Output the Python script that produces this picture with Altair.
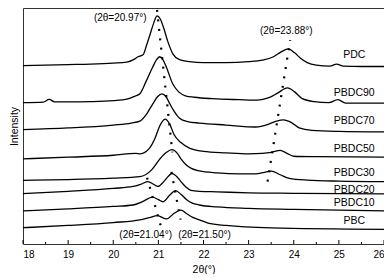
import altair as alt
import pandas as pd

# ---- data (2theta in degrees, intensity in arbitrary offset units) ----
pdc_x = [18.0, 18.5, 19.0, 19.5, 20.0, 20.3, 20.45, 20.55, 20.66, 20.74, 20.81, 20.9, 20.97, 21.04, 21.1, 21.21, 21.32, 21.47, 21.69, 22.0, 22.5, 23.0, 23.3, 23.55, 23.72, 23.88, 24.02, 24.15, 24.3, 24.5, 24.8, 24.95, 25.1, 25.5, 26.0]
pdc_y = [183, 183.5, 184, 184.5, 185.5, 186.5, 189, 192, 194, 204, 214, 227, 234, 231, 224, 207.5, 195, 189, 187, 186, 186, 187, 188.5, 192, 197, 200, 196, 190.5, 186, 183.5, 182.5, 184.5, 182.5, 182, 182]

pbdc90_x = [18.0, 18.45, 18.58, 18.7, 19.0, 19.5, 20.0, 20.3, 20.5, 20.59, 20.73, 20.88, 20.96, 21.03, 21.1, 21.18, 21.32, 21.45, 21.6, 21.8, 22.2, 22.8, 23.2, 23.45, 23.65, 23.86, 24.02, 24.19, 24.45, 24.78, 24.98, 25.15, 25.5, 26.0]
pbdc90_y = [145, 145.5, 148.3, 145.7, 145.7, 146, 147, 148.5, 152, 154, 167, 182, 189, 192, 189, 181, 164, 156, 152, 150.5, 149, 148, 147.5, 150, 155, 160, 156, 149, 146, 145, 148, 144.5, 144.5, 144.5]

pbdc70_x = [18.0, 19.0, 20.0, 20.4, 20.59, 20.75, 20.88, 20.98, 21.08, 21.17, 21.25, 21.35, 21.47, 21.65, 21.91, 22.5, 23.16, 23.45, 23.62, 23.77, 23.95, 24.12, 24.4, 25.0, 26.0]
pbdc70_y = [117.3, 119, 122, 124, 126, 134, 144, 151, 154, 151, 144, 136, 129, 125.5, 124, 122, 120, 123, 126, 127.3, 124.5, 119, 116.5, 115.5, 115]

pbdc50_x = [18.0, 19.0, 20.0, 20.5, 20.6, 20.8, 20.93, 21.03, 21.15, 21.25, 21.35, 21.5, 21.7, 22.0, 22.5, 23.0, 23.3, 23.5, 23.7, 23.85, 24.0, 24.5, 26.0]
pbdc50_y = [87.3, 89, 91, 93, 92.5, 98, 109, 121, 128, 123, 112, 104, 98, 95, 93.5, 92.5, 93, 94, 96, 93, 90, 89.5, 89]

pbdc30_x = [18.0, 19.0, 20.0, 20.59, 20.85, 21.03, 21.18, 21.3, 21.42, 21.5, 21.62, 21.73, 21.91, 22.3, 22.8, 23.16, 23.35, 23.5, 23.7, 23.9, 24.3, 25.0, 26.0]
pbdc30_y = [65.3, 66, 67.5, 69, 76, 87, 94, 96.7, 93, 87.3, 81, 77.5, 75, 73, 72, 72, 73.5, 74.7, 71, 67.3, 65.5, 64.5, 64]

pbdc20_x = [18.0, 19.0, 20.0, 20.44, 20.62, 20.77, 20.9, 20.99, 21.12, 21.22, 21.3, 21.4, 21.5, 21.62, 21.72, 21.91, 22.3, 23.0, 24.0, 26.0]
pbdc20_y = [51.7, 54, 57, 59, 61.5, 64, 61, 59, 64, 69.5, 72.3, 69.5, 64, 58, 55, 54, 53.5, 52.5, 52, 51.3]

pbdc10_x = [18.0, 19.0, 20.0, 20.44, 20.65, 20.87, 21.0, 21.1, 21.25, 21.38, 21.5, 21.62, 21.75, 21.91, 22.3, 23.0, 24.0, 26.0]
pbdc10_y = [34, 36, 38.5, 40, 43.5, 48, 45.5, 43.3, 50, 54.7, 51, 45.7, 42, 40, 38, 36.5, 35.5, 34]

pbc_x = [18.0, 19.0, 20.0, 20.59, 20.8, 20.98, 21.18, 21.35, 21.5, 21.63, 21.76, 21.91, 22.1, 22.5, 23.5, 26.0]
pbc_y = [16.7, 19, 22, 24.7, 27, 29, 25.7, 31.5, 34.7, 31, 27.3, 24.7, 21.5, 19, 16.5, 15]

samples = ["PDC", "PBDC90", "PBDC70", "PBDC50", "PBDC30", "PBDC20", "PBDC10", "PBC"]
curves_x = [pdc_x, pbdc90_x, pbdc70_x, pbdc50_x, pbdc30_x, pbdc20_x, pbdc10_x, pbc_x]
curves_y = [pdc_y, pbdc90_y, pbdc70_y, pbdc50_y, pbdc30_y, pbdc20_y, pbdc10_y, pbc_y]

# sample labels on the right
label_x = [25.34] * 8
label_y = [194, 155, 126, 97, 73.3, 55.7, 42.3, 24]

# dotted guide lines through the peak positions (start, end)
guide_ids = ["A", "A", "B", "B", "C", "C", "D", "D"]
guide_x = [20.97, 21.31, 21.29, 21.49, 20.75, 21.05, 23.92, 23.42]
guide_y = [240, 94, 74, 25, 68, 19, 209, 64]

# peak annotations
ann_text = ["(2θ=20.97°)", "(2θ=23.88°)", "(2θ=21.04°)", "(2θ=21.50°)"]
ann_x = [20.155, 23.834, 20.718, 22.022]
ann_y = [231.7, 218.3, 9, 9]

major_ticks = [18, 19, 20, 21, 22, 23, 24, 25, 26]
minor_ticks = [18.5, 19.5, 20.5, 21.5, 22.5, 23.5, 24.5, 25.5]

# ---- build tables ----
rows = []
for s, xs, ys in zip(samples, curves_x, curves_y):
    for a, b in zip(xs, ys):
        rows.append({"sample": s, "t": a, "i": b})
curves = pd.DataFrame(rows)
labels = pd.DataFrame({"sample": samples, "t": label_x, "i": label_y})
guides = pd.DataFrame({"g": guide_ids, "t": guide_x, "i": guide_y})
anns = pd.DataFrame({"txt": ann_text, "t": ann_x, "i": ann_y})
majors = pd.DataFrame({"t": major_ticks})
minors = pd.DataFrame({"t": minor_ticks})

W, H = 361, 236
FONT = "Liberation Sans"

xscale = alt.Scale(domain=[18, 26], nice=False)
yscale = alt.Scale(domain=[0, 242], nice=False, zero=False)

x_axis = alt.Axis(values=major_ticks, format="d", ticks=False, tickSize=0, domain=False, grid=False,
                  labelFontSize=10, labelFont=FONT, labelColor="black", labelPadding=5,
                  title="2θ(°)", titleFont=FONT, titleFontSize=10.5, titleFontWeight="normal",
                  titleColor="black", titlePadding=5)
y_axis = alt.Axis(labels=False, ticks=False, domain=False, grid=False,
                  title="Intensity", titleFont=FONT, titleFontSize=10.5, titleFontWeight="normal",
                  titleColor="black", titlePadding=4)

lines = alt.Chart(curves).mark_line(color="black", strokeWidth=1.3, interpolate="monotone").encode(
    x=alt.X("t:Q", scale=xscale, axis=x_axis),
    y=alt.Y("i:Q", scale=yscale, axis=y_axis),
    detail="sample:N",
)

dots = alt.Chart(guides).mark_line(color="black", strokeWidth=2.2, strokeDash=[2, 7.5], strokeCap="butt").encode(
    x=alt.X("t:Q", scale=xscale),
    y=alt.Y("i:Q", scale=yscale),
    detail="g:N",
)

names = alt.Chart(labels).mark_text(font=FONT, fontSize=10.5, color="black", align="center", baseline="middle").encode(
    x=alt.X("t:Q", scale=xscale),
    y=alt.Y("i:Q", scale=yscale),
    text="sample:N",
)

notes = alt.Chart(anns).mark_text(font=FONT, fontSize=10, color="black", align="center", baseline="middle").encode(
    x=alt.X("t:Q", scale=xscale),
    y=alt.Y("i:Q", scale=yscale),
    text="txt:N",
)

major_marks = alt.Chart(majors).mark_rule(color="black", strokeWidth=1).encode(
    x=alt.X("t:Q", scale=xscale),
    y=alt.value(H),
    y2=alt.value(H - 4),
)
minor_marks = alt.Chart(minors).mark_rule(color="black", strokeWidth=1).encode(
    x=alt.X("t:Q", scale=xscale),
    y=alt.value(H),
    y2=alt.value(H - 2),
)

chart = alt.layer(lines, dots, names, notes, major_marks, minor_marks).properties(
    width=W, height=H,
    autosize=alt.AutoSizeParams(type="none"),
    padding={"left": 15, "top": 0, "right": 0, "bottom": 30},
    background="white",
).configure_view(stroke="#333333", strokeWidth=1)

chart.save("out.html", embed_options={"renderer": "svg", "actions": False})
